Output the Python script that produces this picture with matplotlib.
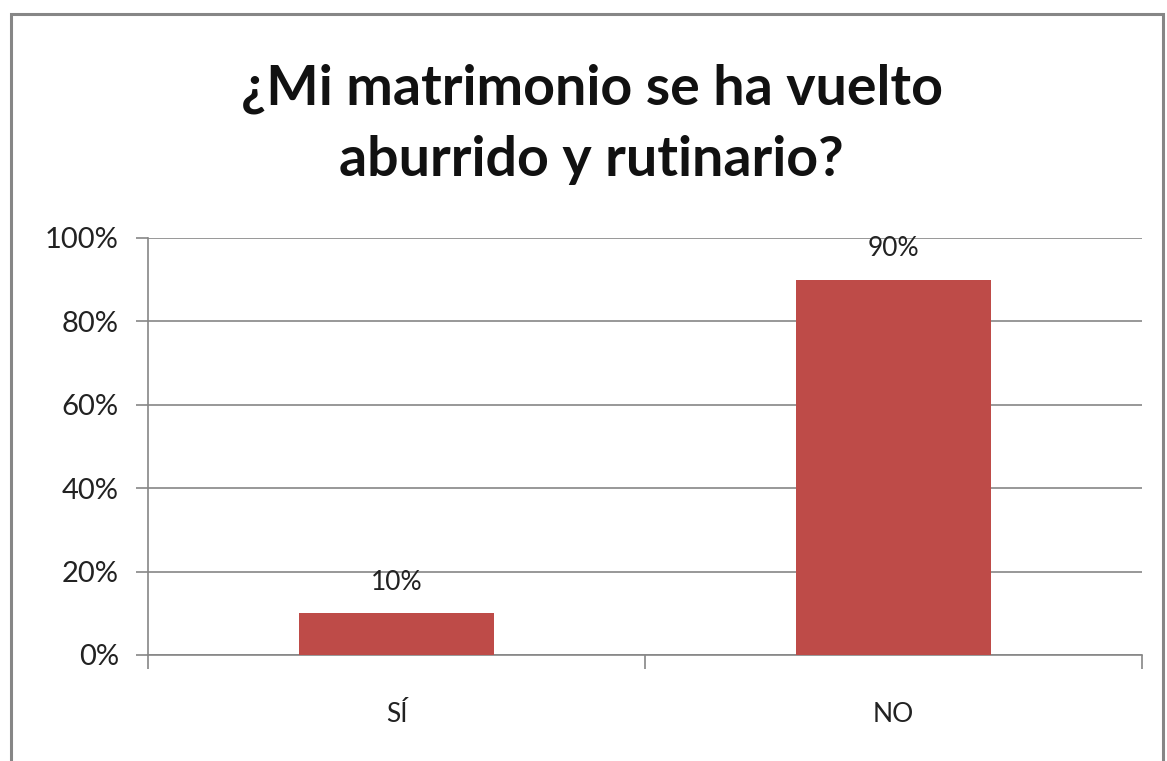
import matplotlib.pyplot as plt
from matplotlib.patches import Rectangle

categories = ["SÍ", "NO"]
values = [10, 90]
yticks = [0, 20, 40, 60, 80, 100]

plt.rcParams["font.family"] = ["Lato", "DejaVu Sans"]

fig = plt.figure(figsize=(11.67, 7.61), dpi=100)
ax = fig.add_axes([0.1268, 0.1393, 0.8518, 0.548])

# chart border (bottom edge runs off the canvas)
fig.patches.append(Rectangle((0.009, -0.02), 0.988, 1.0016,
                             transform=fig.transFigure, fill=False,
                             edgecolor="#868686", linewidth=2.2))

x = range(len(categories))
bars = ax.bar(x, values, width=0.394, color="#BE4B48", zorder=3)

for xi, v in zip(x, values):
    ax.text(xi, v + 4.5, f"{v}%", ha="center", va="bottom", fontsize=19,
            color="#222222")

ax.set_xlim(-0.5, 1.5)
ax.set_ylim(0, 100)
ax.set_yticks(yticks)
ax.set_yticklabels([f"{t}%" for t in yticks], fontsize=21, color="#222222")
ax.yaxis.grid(True, color="#868686", linewidth=1.2, zorder=0)

ax.set_xticks(list(x))
ax.set_xticklabels(categories, fontsize=19, color="#222222")
ax.tick_params(axis="x", length=0, pad=34)
ax.tick_params(axis="y", length=9, width=1.2, color="#868686", pad=12)

# category boundary ticks on the x axis
ax.set_xticks([-0.5, 0.5, 1.5], minor=True)
ax.tick_params(axis="x", which="minor", length=10, width=1.2, color="#868686")

for s in ["top", "right"]:
    ax.spines[s].set_visible(False)
ax.spines["left"].set_color("#868686")
ax.spines["bottom"].set_color("#868686")
ax.spines["left"].set_linewidth(1.2)
ax.spines["bottom"].set_linewidth(1.2)

fig.text(0.507, 0.837, "¿Mi matrimonio se ha vuelto\naburrido y rutinario?",
         ha="center", va="center", fontsize=40, fontweight="bold",
         linespacing=1.5, color="#111111")

fig.savefig("out.png", dpi=100)
